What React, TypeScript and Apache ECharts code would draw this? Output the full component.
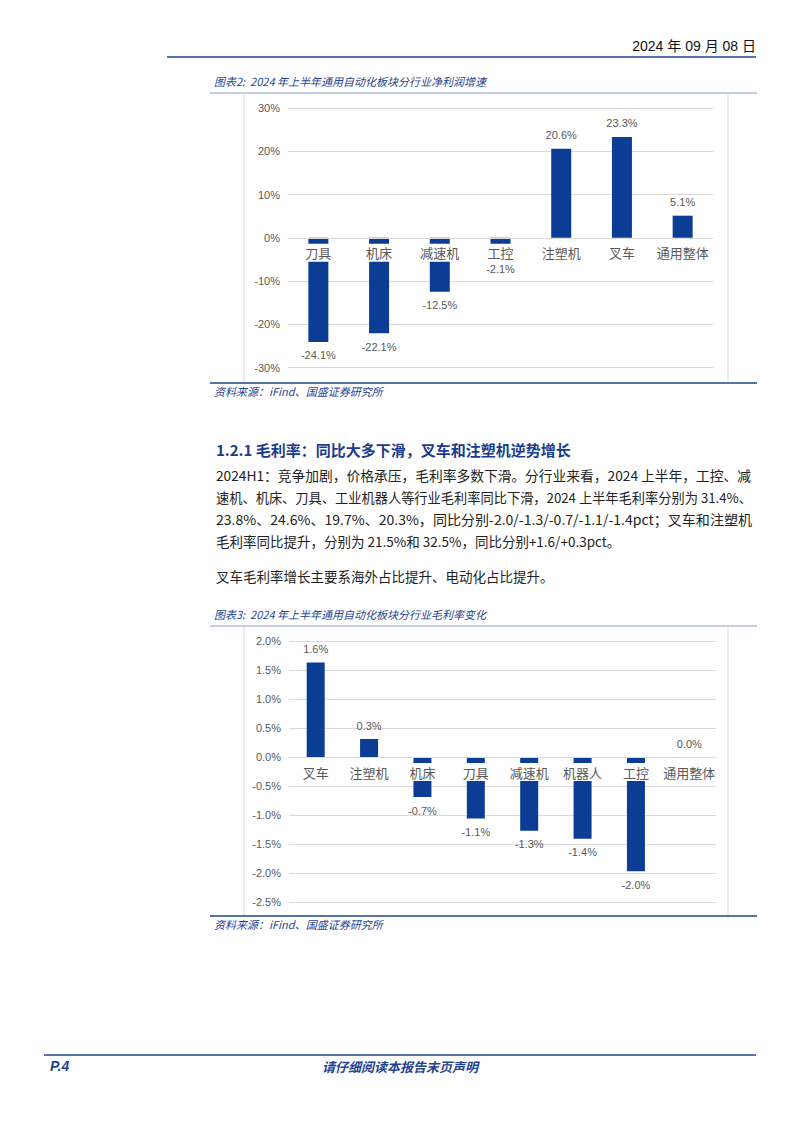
import React, { useEffect, useRef } from "react";
import * as echarts from "echarts";

const cats1 = ["刀具", "机床", "减速机", "工控", "注塑机", "叉车", "通用整体"];
const vals1 = [-24.1, -22.1, -12.5, -2.1, 20.6, 23.3, 5.1];
const yMin1 = -30;
const yMax1 = 30;
const yStep1 = 10;

const cats2 = ["叉车", "注塑机", "机床", "刀具", "减速机", "机器人", "工控", "通用整体"];
const vals2 = [1.63, 0.31, -0.69, -1.06, -1.27, -1.41, -1.97, 0.0];
const yMin2 = -2.5;
const yMax2 = 2.0;
const yStep2 = 0.5;

const headerDate = "2024 年 09 月 08 日";
const caption1 = "图表2:  2024 年上半年通用自动化板块分行业净利润增速";
const caption2 = "图表3:  2024 年上半年通用自动化板块分行业毛利率变化";
const sourceText = "资料来源：iFind、国盛证券研究所";
const heading = "1.2.1 毛利率：同比大多下滑，叉车和注塑机逆势增长";
const paragraph = [
  "2024H1：竞争加剧，价格承压，毛利率多数下滑。分行业来看，2024 上半年，工控、减",
  "速机、机床、刀具、工业机器人等行业毛利率同比下滑，2024 上半年毛利率分别为 31.4%、",
  "23.8%、24.6%、19.7%、20.3%，同比分别-2.0/-1.3/-0.7/-1.1/-1.4pct；叉车和注塑机",
  "毛利率同比提升，分别为 21.5%和 32.5%，同比分别+1.6/+0.3pct。",
];
const paragraph2 = "叉车毛利率增长主要系海外占比提升、电动化占比提升。";
const footerLeft = "P.4";
const footerCenter = "请仔细阅读本报告末页声明";

const BAR = "#0b3d95";
const BLUE = "#1f4592";
const GRID = "#d9d9d9";
const LABEL = "#595959";
const SANS = "'Liberation Sans', 'Noto Sans CJK SC', sans-serif";
const CJK = "'Noto Sans CJK SC', 'Liberation Sans', sans-serif";

// height (px) below the zero line that the category label box occupies
const AXIS_LABEL_BOX = 24;

function measure(text: string, size: number, family: string, weight = "normal") {
  const c = document.createElement("canvas").getContext("2d");
  if (!c) return 0;
  c.font = `${weight} ${size}px ${family}`;
  return c.measureText(text).width;
}

function txt(x: number, y: number, text: string, o: any = {}) {
  const align = o.align || "left";
  return {
    type: "text",
    x,
    y,
    scaleX: o.scaleX || 1,
    silent: true,
    style: {
      text,
      fill: o.fill || "#222",
      fontSize: o.size || 14,
      fontFamily: o.family || CJK,
      fontWeight: o.weight || "normal",
      fontStyle: o.style || "normal",
      textAlign: align,
      align,
      textVerticalAlign: "middle",
      verticalAlign: "middle",
    },
  };
}

function ln(x1: number, y1: number, x2: number, y2: number, stroke: string, w = 1) {
  return { type: "line", silent: true, shape: { x1, y1, x2, y2 }, style: { stroke, lineWidth: w } };
}

function barSeries(vals: number[], xi: number, width: number, pxPerUnit: number) {
  return {
    type: "bar",
    xAxisIndex: xi,
    yAxisIndex: xi,
    barWidth: width,
    itemStyle: { color: BAR },
    data: vals.map((v) => {
      const barPx = Math.abs(v) * pxPerUnit;
      const dist = v < 0 && barPx < AXIS_LABEL_BOX ? AXIS_LABEL_BOX + 2 - barPx : 8;
      return {
        value: v,
        label: {
          show: true,
          position: v >= 0 ? "top" : "bottom",
          distance: dist,
          color: LABEL,
          fontSize: 11,
          fontFamily: SANS,
          formatter: () => v.toFixed(1) + "%",
        },
      };
    }),
  };
}

// offset: distance (px) from the grid bottom up to the zero line
function catAxis(cats: string[], gi: number, offset: number) {
  return {
    type: "category",
    gridIndex: gi,
    data: cats,
    z: 5,
    position: "bottom",
    offset: -offset,
    axisLine: { show: true, onZero: false, lineStyle: { color: GRID } },
    axisTick: { show: false },
    axisLabel: {
      margin: 6,
      color: LABEL,
      fontSize: 13,
      fontFamily: CJK,
      lineHeight: 16,
      backgroundColor: "#fff",
      padding: [1, 3],
      interval: 0,
    },
  };
}

function valAxis(gi: number, min: number, max: number, step: number, dec: number) {
  return {
    type: "value",
    gridIndex: gi,
    min,
    max,
    interval: step,
    axisLine: { show: false },
    axisTick: { show: false },
    splitLine: { lineStyle: { color: GRID, width: 1 } },
    axisLabel: {
      margin: 8,
      color: LABEL,
      fontSize: 11,
      fontFamily: SANS,
      formatter: (v: number) => v.toFixed(dec) + "%",
    },
  };
}

export default function App() {
  const ref = useRef<HTMLDivElement>(null);
  useEffect(() => {
    document.body.style.margin = "0";
    const chart = echarts.init(ref.current!, null, { renderer: "svg" });
    const g1 = { left: 288, top: 108, width: 425, height: 259.5 };
    const g2 = { left: 289, top: 641, width: 427, height: 261 };
    const ppu1 = g1.height / (yMax1 - yMin1);
    const ppu2 = g2.height / (yMax2 - yMin2);
    const zero1 = (0 - yMin1) * ppu1;
    const zero2 = (0 - yMin2) * ppu2;

    const paraX = 216;
    const paraRight = 752;
    const paraSize = 13.5;
    const paraLines = paragraph.map((t, i) => {
      let sx = 1;
      if (i < paragraph.length - 1) {
        const w = measure(t, paraSize, CJK);
        if (w > 0) sx = Math.min(1.06, Math.max(0.94, (paraRight - paraX) / w));
      }
      return txt(paraX, 475 + i * 22, t, { size: paraSize, fill: "#222", scaleX: sx });
    });

    const graphics: any[] = [
      // header
      ln(167, 57, 756, 57, BLUE, 1.5),
      txt(756, 46, headerDate, { align: "right", size: 14, family: SANS, fill: "#111" }),
      // chart 1 frame
      txt(214, 81, caption1, { size: 11, style: "italic", fill: BLUE }),
      ln(210, 93, 757, 93, "#8d9dc4", 1),
      ln(244, 93, 244, 383, GRID, 1),
      ln(728, 93, 728, 383, GRID, 1),
      ln(210, 383, 757, 383, BLUE, 1.5),
      txt(214, 391, sourceText, { size: 11, style: "italic", fill: BLUE }),
      // heading & paragraph
      txt(216, 449, heading, { size: 15, weight: "bold", fill: "#1b3c8c" }),
      ...paraLines,
      txt(paraX, 576, paragraph2, { size: paraSize, fill: "#222" }),
      // chart 2 frame
      txt(214, 614, caption2, { size: 11, style: "italic", fill: BLUE }),
      ln(210, 626, 757, 626, "#8d9dc4", 1),
      ln(244, 626, 244, 916, GRID, 1),
      ln(728, 626, 728, 916, GRID, 1),
      ln(210, 916, 757, 916, BLUE, 1.5),
      txt(214, 924, sourceText, { size: 11, style: "italic", fill: BLUE }),
      // footer
      ln(44, 1055, 756, 1055, BLUE, 1.5),
      txt(50, 1066, footerLeft, { size: 14, weight: "bold", style: "italic", family: SANS, fill: BLUE }),
      txt(400, 1066, footerCenter, { size: 13, weight: "bold", style: "italic", fill: BLUE, align: "center" }),
    ];
    chart.setOption({
      animation: false,
      backgroundColor: "#fff",
      grid: [g1, g2],
      xAxis: [catAxis(cats1, 0, zero1), catAxis(cats2, 1, zero2)],
      yAxis: [valAxis(0, yMin1, yMax1, yStep1, 0), valAxis(1, yMin2, yMax2, yStep2, 1)],
      series: [barSeries(vals1, 0, 20, ppu1), barSeries(vals2, 1, 18, ppu2)],
      graphic: graphics,
    });
    return () => chart.dispose();
  }, []);
  return (
    <div
      ref={ref}
      style={{ position: "absolute", left: 0, top: 0, width: 802, height: 1133, background: "#fff" }}
    />
  );
}
